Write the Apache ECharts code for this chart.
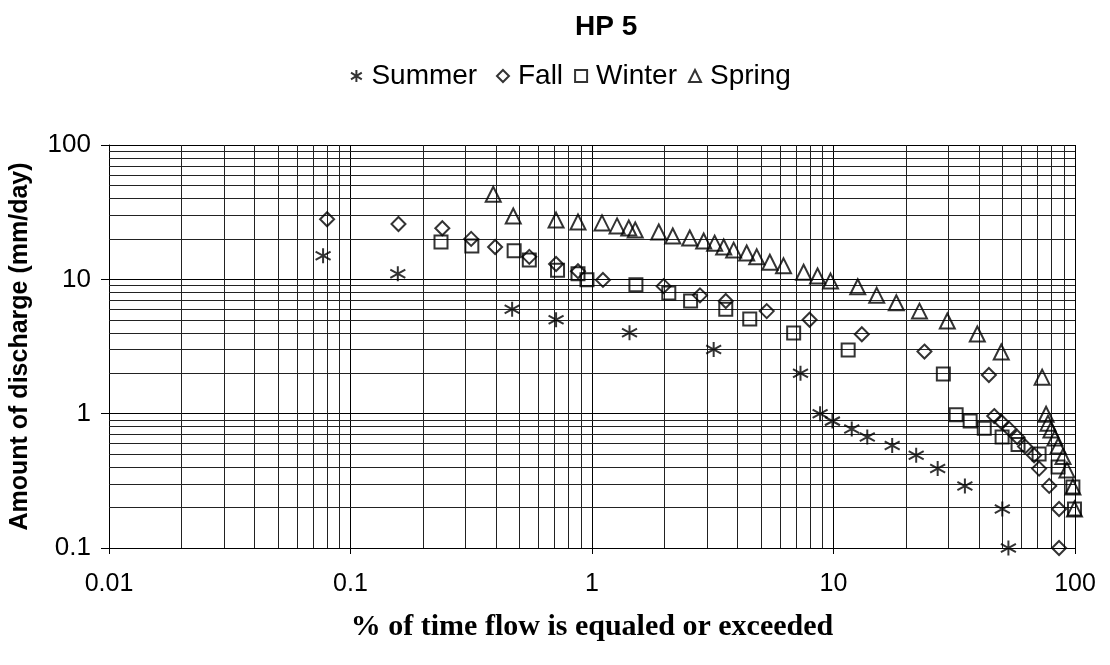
<!DOCTYPE html>
<html><head><meta charset="utf-8">
<script src="https://cdn.jsdelivr.net/npm/echarts@6/dist/echarts.min.js"></script>
<style>html,body{margin:0;padding:0;background:#fff}#c{width:1110px;height:665px}</style>
</head><body><div id="c"></div>
<script>
// Data: [% of time flow is equaled or exceeded, discharge mm/day]
const summer = [[0.077,15],[0.157,11],[0.467,6],[0.71,5],[1.43,4],[3.19,3],[7.3,2],[8.8,1],[9.9,0.88],[11.9,0.77],[13.8,0.67],[17.5,0.58],[22,0.49],[27,0.39],[35,0.29],[50,0.195],[53,0.1]];
const fall = [[0.08,28],[0.158,25.8],[0.24,24],[0.316,20],[0.397,17.4],[0.55,14.7],[0.71,13],[0.875,11.5],[1.11,9.9],[1.98,8.9],[2.8,7.6],[3.58,6.9],[5.29,5.8],[7.96,5],[13.1,3.9],[23.8,2.9],[44,1.94],[46.3,0.96],[49.5,0.87],[53.4,0.77],[57.6,0.67],[62.1,0.57],[67.7,0.49],[71,0.39],[78.2,0.29],[85.9,0.195],[85.9,0.1]];
const winter = [[0.237,19],[0.318,17.7],[0.476,16.3],[0.55,13.9],[0.72,11.7],[0.875,11],[0.953,9.95],[1.52,9.1],[2.08,7.9],[2.56,6.9],[3.58,6],[4.5,5.06],[6.84,3.98],[11.5,2.98],[28.5,1.97],[32.2,0.98],[36.8,0.88],[42.1,0.78],[49.9,0.67],[58.1,0.59],[71,0.5],[85.1,0.4],[98,0.284],[99.5,0.195]];
const spring = [[0.39,43],[0.472,29.6],[0.71,27.6],[0.875,26.7],[1.1,26.3],[1.27,25],[1.42,24.1],[1.51,23.3],[1.89,22.5],[2.16,21],[2.54,20.3],[2.9,19.3],[3.22,18.6],[3.51,17.4],[3.86,16.5],[4.37,15.7],[4.81,14.7],[5.45,13.4],[6.21,12.6],[7.52,11.3],[8.59,10.6],[9.72,9.7],[12.6,8.8],[15.1,7.6],[18.2,6.7],[22.7,5.8],[29.6,4.9],[39.4,3.92],[49.5,2.88],[73.1,1.87],[75.9,0.99],[77.3,0.85],[79.5,0.755],[82.6,0.66],[85.1,0.574],[89.2,0.48],[92.6,0.38],[98,0.284],[99.5,0.195]];
const seriesNames = ['Summer','Fall','Winter','Spring'];
const xDecades = [0.01,0.1,1,10];
const yDecades = [0.1,1,10];

const minorX = [], minorY = [];
xDecades.forEach(d => { for (let k = 2; k <= 9; k++) minorX.push(+(d*k).toPrecision(3)); });
yDecades.forEach(d => { for (let k = 2; k <= 9; k++) minorY.push(+(d*k).toPrecision(3)); });

const FONT = 'Liberation Sans, Arial, sans-serif';
const asterisk = 'path://M0,-10L0,10M-9,-5.5L9,5.5M-9,5.5L9,-5.5';
const mk = (name, data, symbol, size) => ({
  name, type: 'scatter', data, symbol, symbolSize: size, z: 5,
  itemStyle: { color: 'rgba(255,255,255,0)', borderColor: '#000', borderWidth: 2 }
});

const chart = echarts.init(document.getElementById('c'), null, { renderer: 'canvas' });
chart.setOption({
  animation: false,
  backgroundColor: '#fff',
  title: { text: 'HP 5', left: 570, top: 8, textStyle: { fontFamily: FONT, fontSize: 28, fontWeight: 'bold', color: '#000' } },
  legend: {
    data: seriesNames, top: 57, left: 345, itemGap: 11, itemWidth: 12, itemHeight: 12,
    formatter: n => n === 'Summer' ? n + ' ' : n,
    textStyle: { fontFamily: FONT, fontSize: 28, color: '#000', padding: [0, 0, 0, 4] }
  },
  grid: { left: 108, right: 35, top: 145, bottom: 117, containLabel: false },
  xAxis: {
    type: 'log', logBase: 10, min: 0.01, max: 100,
    name: '% of time flow is equaled or exceeded', nameLocation: 'middle', nameGap: 64,
    nameTextStyle: { fontFamily: 'Liberation Serif, Times New Roman, serif', fontSize: 30, fontWeight: 'bold', color: '#000' },
    axisLine: { lineStyle: { color: '#000', width: 1 } },
    axisTick: { show: true, length: 6, lineStyle: { color: '#000' } },
    axisLabel: { fontFamily: FONT, fontSize: 25, color: '#000', margin: 24 },
    splitLine: { show: true, lineStyle: { color: '#000', width: 1 } }
  },
  yAxis: {
    type: 'log', logBase: 10, min: 0.1, max: 100,
    name: 'Amount of discharge (mm/day)', nameLocation: 'middle', nameGap: 76,
    nameTextStyle: { fontFamily: FONT, fontSize: 25, fontWeight: 'bold', color: '#000' },
    axisLine: { lineStyle: { color: '#000', width: 1 } },
    axisTick: { show: true, length: 8, lineStyle: { color: '#000' } },
    axisLabel: { fontFamily: FONT, fontSize: 26, color: '#000', margin: 18 },
    splitLine: { show: true, lineStyle: { color: '#000', width: 1 } }
  },
  series: [
    mk('Summer', summer, asterisk, 15),
    mk('Fall', fall, 'diamond', 14),
    mk('Winter', winter, 'rect', 13),
    mk('Spring', spring, 'triangle', 15),
    {
      type: 'line', data: [], silent: true, z: 1,
      markLine: {
        silent: true, symbol: 'none', animation: false,
        label: { show: false },
        lineStyle: { color: '#222', width: 1, type: 'solid' },
        emphasis: { disabled: true },
        data: minorX.map(v => ({ xAxis: v })).concat(minorY.map(v => ({ yAxis: v })))
      }
    }
  ]
});
</script></body></html>
